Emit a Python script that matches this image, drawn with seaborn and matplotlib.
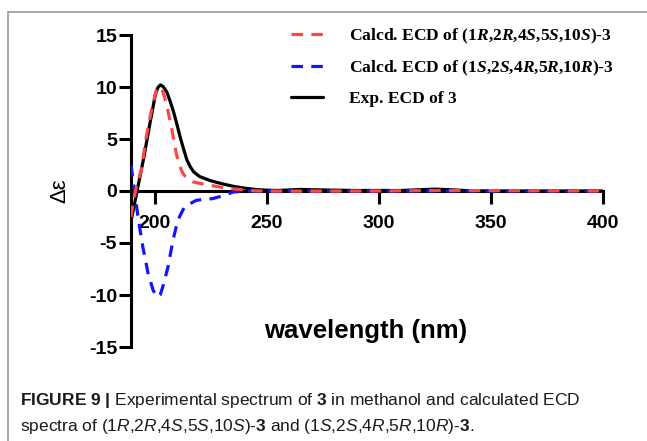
import matplotlib
matplotlib.use("Agg")
import matplotlib.pyplot as plt
import seaborn as sns
from matplotlib.lines import Line2D
from matplotlib import font_manager

# ---------------- data ----------------
exp_wl = [189.8, 192.2, 195.2, 198.2, 200.4, 201.5, 202.6, 203.8, 205.5, 207, 208.5, 210,
          211.4, 213, 214.4, 216, 217.4, 220, 224.8, 230, 235.2, 240, 245.6, 250, 255, 260,
          265, 270, 280, 290, 300, 310, 318, 325, 332, 340, 350, 370, 400]
exp_de = [-2.6, 0.0, 3.2, 6.8, 9.3, 9.95, 10.2, 10.05, 9.5, 8.6, 7.6, 6.4,
          5.2, 4.0, 3.0, 2.3, 1.85, 1.4, 1.0, 0.7, 0.45, 0.28, 0.13, 0.08, 0.05, 0.1,
          0.15, 0.12, 0.08, 0.05, 0.05, 0.05, 0.12, 0.18, 0.12, 0.03, 0.0, 0.0, 0.0]

calc_r_wl = [189.5, 190.5, 192, 194.1, 196.3, 198.6, 200.8, 202.3, 203.8, 205.3, 207.5,
             209.7, 211, 212.7, 214.5, 217.2, 220, 224.6, 233.5, 240, 245.6, 260, 300,
             325, 400]
calc_r_de = [-2.5, -1.0, 0.5, 2.0, 5.2, 7.75, 9.7, 10.05, 9.5, 8.4, 6.15,
             3.6, 2.5, 1.67, 1.2, 0.87, 0.75, 0.55, 0.23, 0.1, 0.0, -0.02, 0.0,
             0.05, 0.0]

calc_s_wl = [189.5, 190.3, 191.1, 192.6, 194.8, 197.1, 199.3, 200.5, 201.5, 202.5, 203.7,
             206, 208.2, 210.4, 213.4, 218.6, 222, 226, 231.3, 235, 240, 300, 400]
calc_s_de = [2.5, 1.2, 0.0, -2.5, -5.4, -7.9, -9.5, -10.0, -10.2, -10.0, -9.2,
             -7.3, -4.75, -2.8, -1.5, -0.9, -0.8, -0.73, -0.4, -0.1, 0.0, 0.0, 0.0]

labels = [
    r"Calcd. ECD of (1$\mathbfit{R}$,2$\mathbfit{R}$,4$\mathbfit{S}$,5$\mathbfit{S}$,10$\mathbfit{S}$)-3",
    r"Calcd. ECD of (1$\mathbfit{S}$,2$\mathbfit{S}$,4$\mathbfit{R}$,5$\mathbfit{R}$,10$\mathbfit{R}$)-3",
    "Exp. ECD of 3",
]
x_ticks = [200, 250, 300, 350, 400]
y_ticks = [-15, -10, -5, 0, 5, 10, 15]

# ---------------- style ----------------
sns.set_style("ticks")
names = {f.name for f in font_manager.fontManager.ttflist}
cap_font = "Liberation Sans Narrow" if "Liberation Sans Narrow" in names else "Liberation Sans"
plt.rcParams["font.family"] = ["Liberation Sans", "DejaVu Sans"]
plt.rcParams["axes.unicode_minus"] = False
plt.rcParams["text.color"] = "black"
plt.rcParams["xtick.color"] = "black"
plt.rcParams["ytick.color"] = "black"
plt.rcParams["mathtext.fontset"] = "custom"
plt.rcParams["mathtext.rm"] = cap_font
plt.rcParams["mathtext.bf"] = cap_font + ":bold"
plt.rcParams["mathtext.it"] = cap_font + ":italic"
plt.rcParams["mathtext.bfit"] = "Liberation Serif:italic:bold"

W, H = 647, 441
fig = plt.figure(figsize=(W / 100, H / 100), dpi=100)
ax = fig.add_axes([131 / W, 1 - 347 / H, 472 / W, 312 / H])

red = "#ff4545"
blue = "#1414ff"
lw = 2.3
dash = (0, (3.6, 2.6))

sns.lineplot(x=exp_wl, y=exp_de, ax=ax, color="black", lw=lw, zorder=3)
sns.lineplot(x=calc_s_wl, y=calc_s_de, ax=ax, color=blue, lw=lw, linestyle=dash, zorder=4)
sns.lineplot(x=calc_r_wl, y=calc_r_de, ax=ax, color=red, lw=lw, linestyle=dash, zorder=5)

ax.set_xlim(189.5, 400)
ax.set_ylim(-15, 15)
ax.set_xticks(x_ticks)
ax.set_yticks(y_ticks)
ax.set_xlabel("")
ax.set_ylabel("")
for s in ["top", "right"]:
    ax.spines[s].set_visible(False)
ax.spines["bottom"].set_position(("data", 0))
for s in ["left", "bottom"]:
    ax.spines[s].set_linewidth(2.2)
    ax.spines[s].set_color("black")
ax.tick_params(axis="both", width=2.2, length=9, color="black", labelsize=14, labelcolor="black")
ax.tick_params(axis="y", pad=1)
ax.tick_params(axis="x", pad=8)
for t in ax.get_xticklabels() + ax.get_yticklabels():
    t.set_fontweight("bold")

# legend
handles = [
    Line2D([], [], color=red, lw=lw, linestyle=dash),
    Line2D([], [], color=blue, lw=lw, linestyle=dash),
    Line2D([], [], color="black", lw=lw),
]
leg = ax.legend(handles, labels, loc="upper left", bbox_to_anchor=(291 / W, 1 - 27 / H),
                bbox_transform=fig.transFigure, frameon=False, borderpad=0, borderaxespad=0,
                handlelength=1.85, handletextpad=1.45, labelspacing=0.72,
                prop={"family": "Liberation Serif", "weight": "bold", "size": 12.6})
for t in leg.get_texts():
    t.set_color("black")

# axis titles
fig.text(60 / W, 1 - 191 / H, "Δε", rotation=90, ha="center", va="center", fontsize=16,
         family="Liberation Sans")
fig.text(366 / W, 1 - 331 / H, "wavelength (nm)", ha="center", va="center", fontsize=18.5,
         fontweight="bold")

# caption
fig.text(20 / W, 1 - 401 / H,
         r"$\mathbf{FIGURE\ 9\ |}$ Experimental spectrum of $\mathbf{3}$ in methanol and calculated ECD",
         ha="left", va="center", fontsize=12.5, family=cap_font, color="#1a1a1a")
fig.text(20 / W, 1 - 427 / H,
         r"spectra of (1$\mathit{R}$,2$\mathit{R}$,4$\mathit{S}$,5$\mathit{S}$,10$\mathit{S}$)-$\mathbf{3}$"
         r" and (1$\mathit{S}$,2$\mathit{S}$,4$\mathit{R}$,5$\mathit{R}$,10$\mathit{R}$)-$\mathbf{3}$.",
         ha="left", va="center", fontsize=12.5, family=cap_font, color="#1a1a1a")

# frame lines
fig.add_artist(Line2D([8 / W, 1], [1 - 12 / H, 1 - 12 / H], transform=fig.transFigure,
                      color="#9a9a9a", lw=1.2))
fig.add_artist(Line2D([8 / W, 8 / W], [0, 1 - 12 / H], transform=fig.transFigure,
                      color="#9a9a9a", lw=1.2))

fig.savefig("out.png", dpi=100)
